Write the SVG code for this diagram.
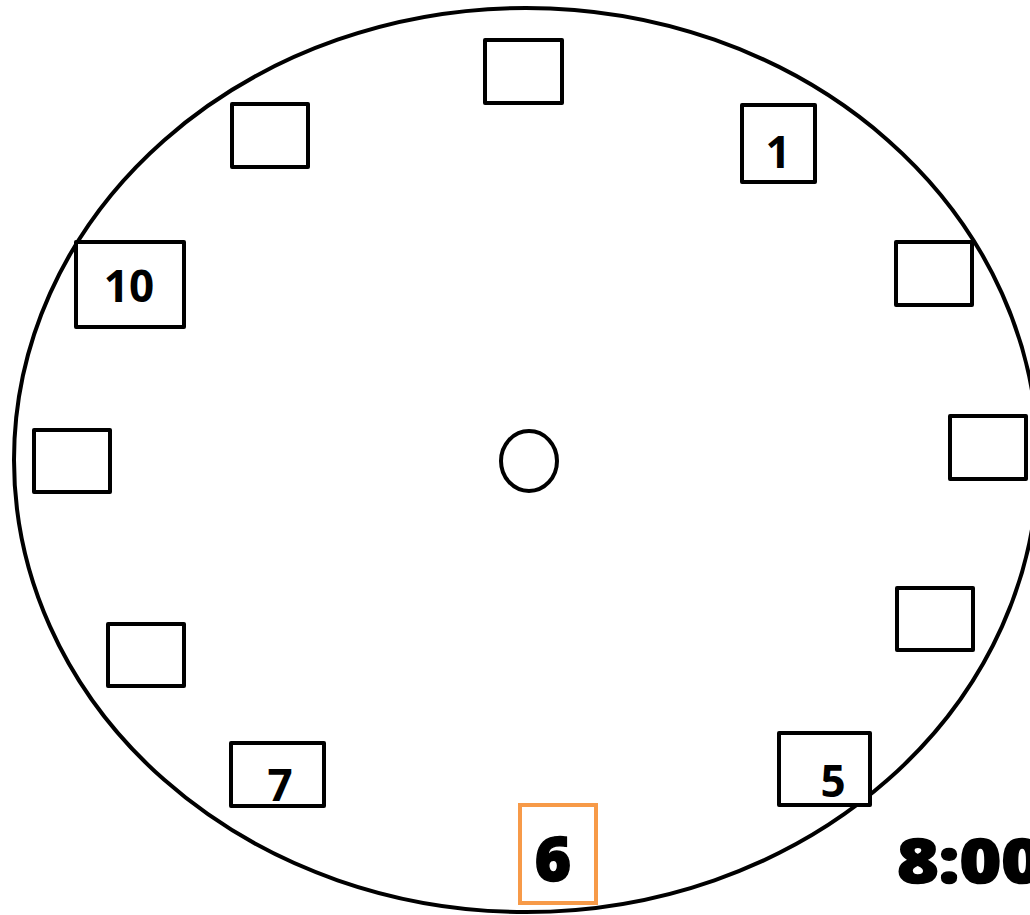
<svg xmlns="http://www.w3.org/2000/svg" width="1030" height="915" viewBox="0 0 1030 915">
<style>
.face{fill:none;stroke:#000;stroke-width:4}
.box{fill:#fff;stroke:#000;stroke-width:4;stroke-linejoin:round}
.hl{fill:#fff;stroke:#F79A48;stroke-width:4}
.num{font-family:"Open Sans","Liberation Sans",sans-serif;font-weight:700;font-size:44px;fill:#000;text-anchor:middle}
.big{font-family:"Open Sans","Liberation Sans",sans-serif;font-weight:800;font-size:62px;fill:#000;stroke:#000;stroke-width:1.5}
</style>
<g id="face"><ellipse class="face" cx="526" cy="460" rx="512" ry="452"/></g>
<g id="center"><ellipse class="face" cx="529" cy="461" rx="28" ry="30"/></g>
<g id="h12"><rect class="box" x="485" y="40" width="77" height="63"/></g>
<g id="h11"><rect class="box" x="232" y="104" width="76" height="63"/></g>
<g id="h1"><rect class="box" x="742" y="105" width="73" height="77"/><text class="num" x="778" y="168">1</text></g>
<g id="h10"><rect class="box" x="76" y="242" width="108" height="85"/><text class="num" x="129" y="302">10</text></g>
<g id="h2"><rect class="box" x="896" y="242" width="76" height="63"/></g>
<g id="h9"><rect class="box" x="34" y="430" width="76" height="62"/></g>
<g id="h3"><rect class="box" x="950" y="416" width="76" height="63"/></g>
<g id="h8"><rect class="box" x="108" y="624" width="76" height="62"/></g>
<g id="h4"><rect class="box" x="897" y="588" width="76" height="62"/></g>
<g id="h7"><rect class="box" x="231" y="743" width="93" height="63"/><text class="num" x="280" y="801">7</text></g>
<g id="h5"><rect class="box" x="779" y="733" width="91" height="72"/><text class="num" x="833" y="797">5</text></g>
<g id="h6"><rect class="hl" x="520" y="805" width="76" height="98"/><text class="big" x="553" y="881" text-anchor="middle">6</text></g>
<g id="time"><text class="big" x="897" y="883" textLength="146" lengthAdjust="spacingAndGlyphs">8:00</text></g>
</svg>
